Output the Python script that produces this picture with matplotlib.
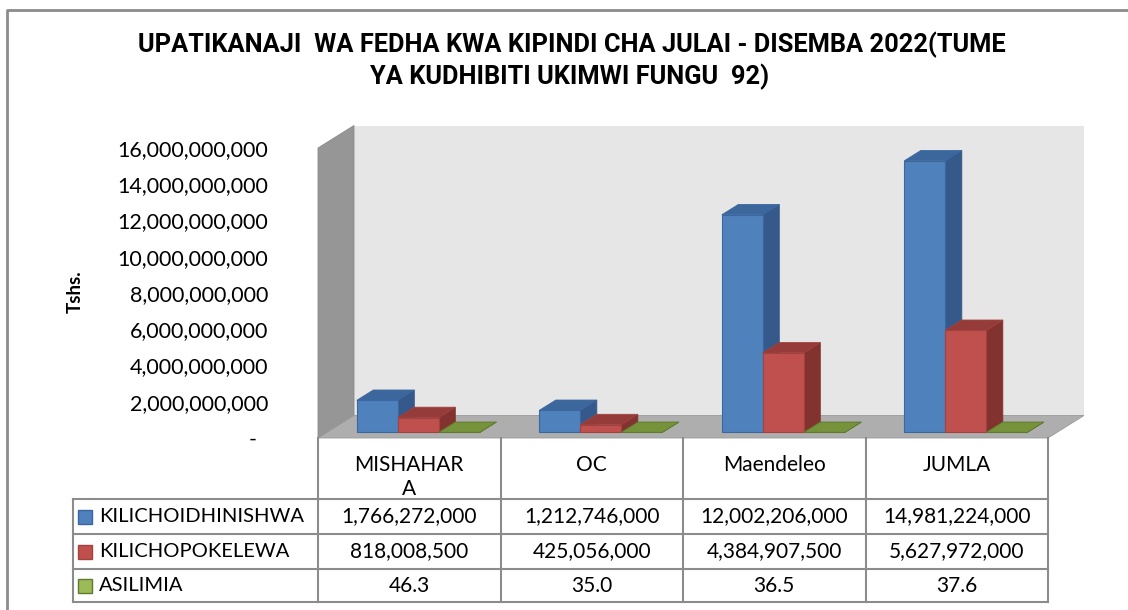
import numpy as np
import matplotlib
matplotlib.use('Agg')
import matplotlib.pyplot as plt
from matplotlib.patches import Polygon
from matplotlib.lines import Line2D
from matplotlib import transforms, font_manager

# data
categories = ['MISHAHAR\nA', 'OC', 'Maendeleo', 'JUMLA']
series_names = ['KILICHOIDHINISHWA', 'KILICHOPOKELEWA', 'ASILIMIA']
kilichoidhinishwa = [1766272000, 1212746000, 12002206000, 14981224000]
kilichopokelewa = [818008500, 425056000, 4384907500, 5627972000]
asilimia = [46.3, 35.0, 36.5, 37.6]
yticks = [0, 2e9, 4e9, 6e9, 8e9, 10e9, 12e9, 14e9, 16e9]

series = [kilichoidhinishwa, kilichopokelewa, asilimia]
table_rows = [[f'{v:,.0f}' for v in kilichoidhinishwa],
              [f'{v:,.0f}' for v in kilichopokelewa],
              [f'{v:.1f}' for v in asilimia]]

# colours: front, top, side, edge
front_c = ['#4F81BD', '#C0504D', '#9BBB59']
top_c = ['#3C679C', '#953B39', '#76933C']
side_c = ['#35598A', '#83332F', '#667F33']
edge_c = ['#3A67A0', '#A3413E', '#5E7A2E']

names = {f.name for f in font_manager.fontManager.ttflist}
title_font = 'Liberation Sans Narrow' if 'Liberation Sans Narrow' in names else 'Roboto'
body_font = 'Lato'

W, H = 1128, 610
fig = plt.figure(figsize=(W / 100, H / 100), dpi=100)
fig.patch.set_facecolor('white')

# chart border
fig.add_artist(Line2D([7 / W, 7 / W, 1.0], [0, 1 - 10 / H, 1 - 10 / H],
                      color='#8C8C8C', lw=2, transform=fig.transFigure))

# title
fig.text(572 / W, 1 - 45 / H, 'UPATIKANAJI  WA FEDHA KWA KIPINDI CHA JULAI - DISEMBA 2022(TUME',
         ha='center', va='center', fontsize=18.3, fontweight='bold', family=title_font)
fig.text(570 / W, 1 - 77 / H, 'YA KUDHIBITI UKIMWI FUNGU  92)',
         ha='center', va='center', fontsize=18.3, fontweight='bold', family=title_font)
fig.text(75 / W, 1 - 292 / H, 'Tshs.', rotation=90, ha='center', va='center',
         fontsize=13.5, fontweight='bold', family=body_font)

ax = fig.add_axes([318 / W, 1 - 438 / H, 730 / W, 290 / H])
ax.set_xlim(-0.5, 3.5)
ax.set_ylim(0, 16e9)
ax.patch.set_visible(False)
for s in ax.spines.values():
    s.set_visible(False)

px_x = 4 / 730          # data x per pixel
px_y = 16e9 / 290       # data y per pixel
DX = 36 * px_x
DY = 22.5 * px_y

# walls and floor
ax.add_patch(Polygon([(-0.5 + DX, DY), (3.5 + DX, DY), (3.5 + DX, 16e9 + DY), (-0.5 + DX, 16e9 + DY)],
                     closed=True, fc='#E6E6E6', ec='none', clip_on=False, zorder=0))
ax.add_patch(Polygon([(-0.5, 0), (-0.5, 16e9), (-0.5 + DX, 16e9 + DY), (-0.5 + DX, DY)],
                     closed=True, fc='#969696', ec='#8A8A8A', lw=0.6, clip_on=False, zorder=1))
ax.add_patch(Polygon([(-0.5, 0), (3.5, 0), (3.5 + DX, DY), (-0.5 + DX, DY)],
                     closed=True, fc='#AEAEAE', ec='#9A9A9A', lw=0.6, clip_on=False, zorder=1))

# 3d bars
w = 41 * px_x
f0, fd = 0.25, 0.46
x = np.arange(len(categories))
for s, vals in enumerate(series):
    x0 = x - 1.5 * w + s * w + f0 * DX
    y0 = f0 * DY
    z = 3 + 2 * s
    for xi, h in zip(x0, vals):
        ax.add_patch(Polygon([(xi + w, y0), (xi + w, y0 + h), (xi + w + fd * DX, y0 + h + fd * DY),
                              (xi + w + fd * DX, y0 + fd * DY)],
                             closed=True, fc=side_c[s], ec=side_c[s], lw=0.6, clip_on=False, zorder=z))
        ax.add_patch(Polygon([(xi, y0 + h), (xi + w, y0 + h), (xi + w + fd * DX, y0 + h + fd * DY),
                              (xi + fd * DX, y0 + h + fd * DY)],
                             closed=True, fc=top_c[s], ec=edge_c[s], lw=0.6, clip_on=False, zorder=z))
    ax.bar(x0, vals, width=w, bottom=y0, align='edge', color=front_c[s],
           edgecolor=edge_c[s], lw=0.8, zorder=z + 1, clip_on=False)

# y axis
ax.set_yticks(yticks)
ax.set_yticklabels(['-  ' if v == 0 else f'{v:,.0f}' for v in yticks],
                   fontsize=15.5, family=body_font)
ax.tick_params(axis='y', length=0, pad=36)
ax.set_xticks([])

# data table
trans = transforms.blended_transform_factory(ax.transData, ax.transAxes)
def yf(py):
    return (438 - py) / 290
def xd(px):
    return (px - 318) * px_x - 0.5

lc = '#8C8C8C'
row_top = [499, 534, 569]
row_bot = [534, 569, 602]
left = xd(73)
for b in [-0.5, 0.5, 1.5, 2.5, 3.5]:
    ax.plot([b, b], [yf(438), yf(602)], color=lc, lw=1.5, transform=trans, clip_on=False)
ax.plot([left, left], [yf(499), yf(602)], color=lc, lw=1.5, transform=trans, clip_on=False)
for ry in [499] + row_bot:
    ax.plot([left, 3.5], [yf(ry), yf(ry)], color=lc, lw=1.5, transform=trans, clip_on=False)

for i, c in enumerate(categories):
    ax.text(i, yf(455), c, ha='center', va='top', fontsize=15, family=body_font,
            linespacing=1.25, transform=trans)

for r, (name, row) in enumerate(zip(series_names, table_rows)):
    yc = yf((row_top[r] + row_bot[r]) / 2)
    ax.plot([xd(85)], [yc], marker='s', ms=9.5, mfc=front_c[r], mec=edge_c[r], mew=1,
            transform=trans, clip_on=False)
    ax.text(xd(99), yc, name, ha='left', va='center', fontsize=14.5, family=body_font,
            transform=trans)
    for i, t in enumerate(row):
        ax.text(i, yc, t, ha='center', va='center', fontsize=15, family=body_font,
                transform=trans)

fig.savefig('out.png', dpi=100)
